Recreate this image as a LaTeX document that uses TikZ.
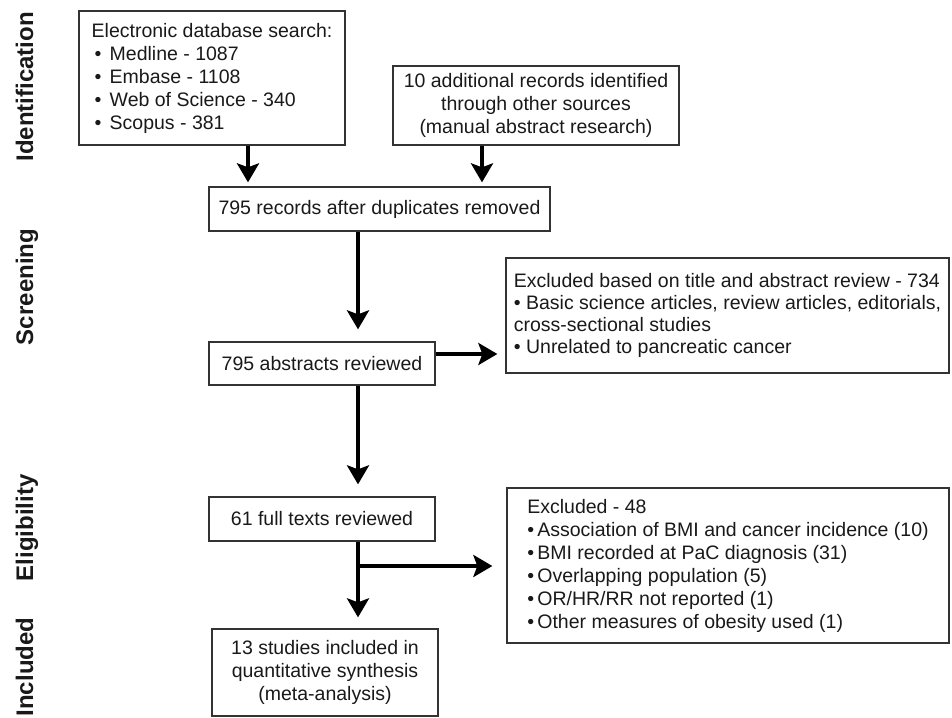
\documentclass[tikz,border=0pt]{standalone}
\usepackage{fontspec}
\setmainfont{Liberation Sans}
\usetikzlibrary{arrows.meta}

\newcommand{\dbitem}[1]{\hspace*{3pt}\makebox[15pt][l]{\textbullet}#1}

\begin{document}
\begin{tikzpicture}[x=1pt,y=-1pt,
  box/.style={draw=black!80,line width=1.3pt,inner sep=0pt,text=black!90,font=\fontsize{19.5}{23}\selectfont,align=center},
  arrow/.style={line width=4pt,-{Stealth[length=19pt,width=22pt,inset=4pt]}},
  phase/.style={rotate=90,anchor=base,text=black!90,font=\bfseries\fontsize{24}{28}\selectfont}]

\useasboundingbox (0,0) rectangle (952,717);

\node [phase] (idn) at (33,87) {Identification};

\node [phase] (scr) at (33,287) {Screening};

\node [phase] (elg) at (33,528) {Eligibility};

\node [phase] (inc) at (33,667) {Included};

\node [box,align=left,minimum width=266pt,minimum height=134pt] (db) at (212,78) {Electronic database search:\\ \dbitem{Medline - 1087}\\ \dbitem{Embase - 1108}\\ \dbitem{Web of Science - 340}\\ \dbitem{Scopus - 381}};

\node [box,minimum width=286pt,minimum height=79pt] (other) at (536,105.5) {10 additional records identified\\ through other sources\\ (manual abstract research)};

\node [box,minimum width=341pt,minimum height=44pt] (dup) at (379.5,209) {795 records after duplicates removed};

\node [box,minimum width=226pt,minimum height=43pt] (abs) at (322,363.5) {795 abstracts reviewed};

\node [box,align=left,minimum width=443pt,minimum height=115pt,font=\fontsize{19.5}{21.7}\selectfont] (excl1) at (727.5,315.5) {Excluded based on title and abstract review - 734\\ \textbullet\ Basic science articles, review articles, editorials,\\ cross-sectional studies\\ \textbullet\ Unrelated to pancreatic cancer};

\node [box,minimum width=226pt,minimum height=44pt] (full) at (322,519) {61 full texts reviewed};

\node [box,align=left,minimum width=442pt,minimum height=155pt] (excl2) at (728,565.5) {Excluded - 48\\ \textbullet\,Association of BMI and cancer incidence (10)\\ \textbullet\,BMI recorded at PaC diagnosis (31)\\ \textbullet\,Overlapping population (5)\\ \textbullet\,OR/HR/RR not reported (1)\\ \textbullet\,Other measures of obesity used (1)};

\node [box,minimum width=226pt,minimum height=87pt] (incl) at (325,672.5) {13 studies included in\\ quantitative synthesis\\ (meta-analysis)};

\coordinate (dbx) at (248,0);

\coordinate (othx) at (482,0);

\coordinate (exy) at (0,354);

\coordinate (split) at (358,566);

\draw[arrow,shorten >=4pt] (db.south -| dbx) -- (dup.north -| dbx);

\draw[arrow,shorten >=4pt] (other.south -| othx) -- (dup.north -| othx);

\draw[arrow,shorten >=12pt] (dup.south -| split) -- (abs.north -| split);

\draw[arrow,shorten >=8pt] (abs.east |- exy) -- (excl1.west |- exy);

\draw[arrow,shorten >=12pt] (abs.south -| split) -- (full.north -| split);

\draw[arrow,shorten >=11pt] (full.south -| split) -- (incl.north -| split);

\draw[arrow,shorten >=14pt] (split) -- (excl2.west |- split);

\end{tikzpicture}
\end{document}
